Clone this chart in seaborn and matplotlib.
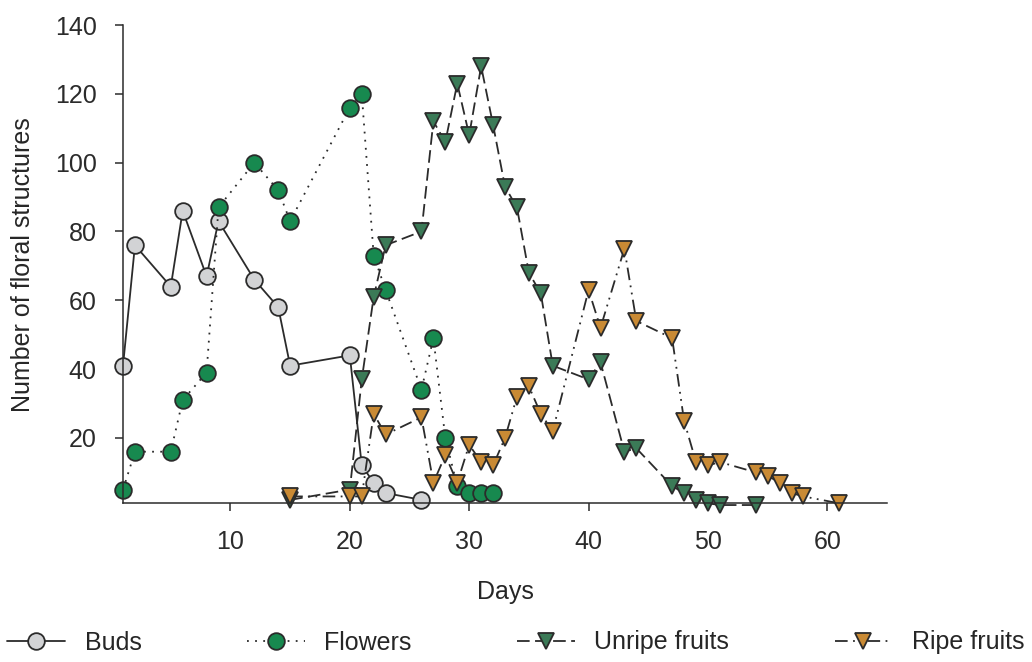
import numpy as np
import pandas as pd
import seaborn as sns
import matplotlib.pyplot as plt

#days and counts for each floral structure
buds_days = [1, 2, 5, 6, 8, 9, 12, 14, 15, 20, 21, 22, 23, 26]
buds_counts = [41, 76, 64, 86, 67, 83, 66, 58, 41, 44, 12, 7, 4, 2]

flowers_days = [1, 2, 5, 6, 8, 9, 12, 14, 15, 20, 21, 22, 23, 26, 27, 28, 29, 30, 31, 32]
flowers_counts = [5, 16, 16, 31, 39, 87, 100, 92, 83, 116, 120, 73, 63, 34, 49, 20, 6, 4, 4, 4]

unripe_days = [15, 20, 21, 22, 23, 26, 27, 28, 29, 30, 31, 32, 33, 34, 35, 36, 37,
               40, 41, 43, 44, 47, 48, 49, 50, 51, 54]
unripe_counts = [2, 5, 37, 61, 76, 80, 112, 106, 123, 108, 128, 111, 93, 87, 68, 62, 41,
                 37, 42, 16, 17, 6, 4, 2, 1, 0.5, 0.5]

ripe_days = [15, 20, 21, 22, 23, 26, 27, 28, 29, 30, 31, 32, 33, 34, 35, 36, 37,
             40, 41, 43, 44, 47, 48, 49, 50, 51, 54, 55, 56, 57, 58, 61]
ripe_counts = [3, 3, 3, 27, 21, 26, 7, 15, 7, 18, 13, 12, 20, 32, 35, 27, 22,
               63, 52, 75, 54, 49, 25, 13, 12, 13, 10, 9, 7, 4, 3, 1]

#tick values
X_TICKS = [10, 20, 30, 40, 50, 60]
Y_TICKS = [20, 40, 60, 80, 100, 120, 140]

EDGE = '#2b2b2b'

if __name__ == '__main__':
    sns.set_style('ticks')
    plt.rcParams['font.family'] = ['Liberation Sans', 'DejaVu Sans']
    plt.rcParams['axes.edgecolor'] = EDGE
    plt.rcParams['xtick.color'] = EDGE
    plt.rcParams['ytick.color'] = EDGE

    fig = plt.figure(figsize=(10.32, 6.62), dpi=100)
    ax = fig.add_axes([0.1192, 0.2397, 0.7403, 0.7225])

    series = [
        ('Buds', buds_days, buds_counts, 'o', '#d2d3d5', '-', 12),
        ('Flowers', flowers_days, flowers_counts, 'o', '#17894f', (0, (1, 3.5)), 12),
        ('Unripe fruits', unripe_days, unripe_counts, 'v', '#3b7a57', (0, (7, 3)), 12),
        ('Ripe fruits', ripe_days, ripe_counts, 'v', '#c98a34', (0, (7, 3, 1, 3, 1, 3)), 12),
    ]

    for name, days, counts, mk, col, ls, ms in series:
        df = pd.DataFrame({'day': days, 'count': counts})
        sns.lineplot(data=df, x='day', y='count', ax=ax, color=EDGE, linestyle=ls,
                     linewidth=1.3, marker=mk, markersize=ms, markerfacecolor=col,
                     markeredgecolor=EDGE, markeredgewidth=1.3, label=name,
                     clip_on=False, legend=False)

    ax.set_xlim(1, 65)
    ax.set_ylim(1, 140)
    ax.set_xticks(X_TICKS)
    ax.set_yticks(Y_TICKS)
    ax.tick_params(labelsize=18, length=6, width=1.1, direction='out', pad=13)
    for s in ['left', 'bottom']:
        ax.spines[s].set_linewidth(1.1)
    sns.despine(ax=ax)

    ax.set_xlabel('Days', fontsize=18, labelpad=19)
    ax.set_ylabel('Number of floral structures', fontsize=18, labelpad=14)

    handles, labels = ax.get_legend_handles_labels()
    fig.legend(handles, labels, loc='lower left', bbox_to_anchor=(0.0, 0.0, 1.0, 0.06),
               mode='expand', ncol=4, frameon=False, fontsize=18, handlelength=2.3,
               handletextpad=0.8, borderaxespad=0.0, borderpad=0.3)

    plt.savefig('out.png', dpi=100)
